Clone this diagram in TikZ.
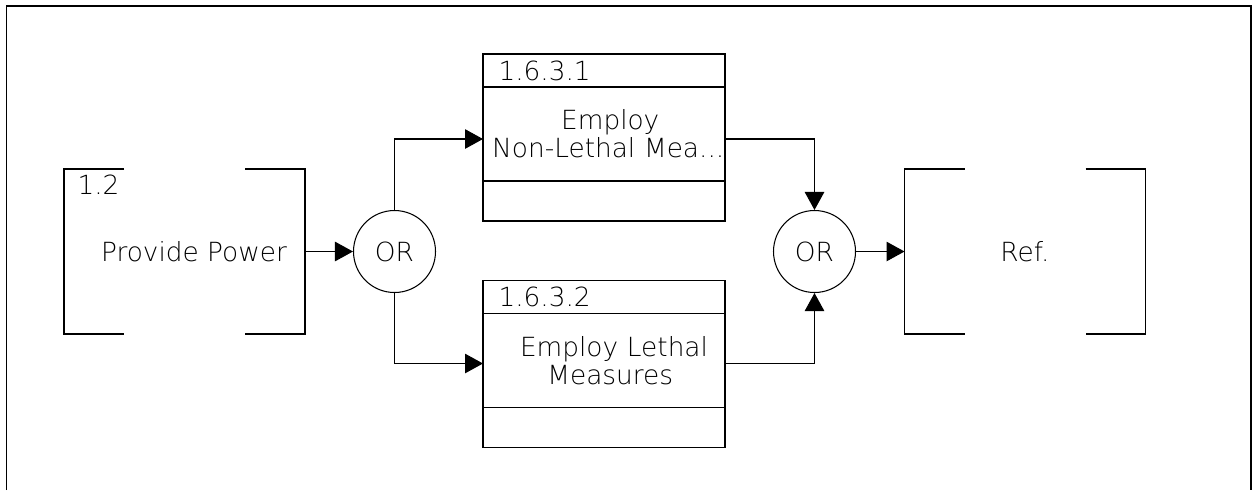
\documentclass[tikz,border=0pt]{standalone}
\usepackage{fontspec}
\setmainfont{DejaVu Sans ExtraLight}
\usetikzlibrary{arrows.meta,positioning}

\begin{document}
\begin{tikzpicture}[
  >={Triangle[length=3.6mm,width=3.9mm]},
  line width=0.6pt,
  every node/.style={font=\fontsize{15}{16}\selectfont},
  ext/.style={minimum width=4.82cm,minimum height=3.3cm,inner sep=0pt,outer sep=0pt,align=center},
  gate/.style={draw,circle,minimum size=1.64cm,inner sep=0pt},
  hdr/.style={draw,minimum width=4.84cm,minimum height=0.66cm,inner sep=0pt,outer sep=0pt},
  body/.style={draw,text width=4.84cm,minimum height=1.88cm,inner sep=0pt,outer sep=0pt,align=center},
  ftr/.style={draw,minimum width=4.84cm,minimum height=0.8cm,inner sep=0pt,outer sep=0pt},
  num/.style={inner sep=0pt,anchor=west}
]
\useasboundingbox (0,0) rectangle (25.04,-9.8);
% page frame, open at the bottom
\draw[line width=1.1pt] (0.13,-9.8) -- (0.13,-0.12) -- (25.02,-0.12) -- (25.02,-9.8);

% external functions
\node[ext] (power) at (3.69,-5.03) {\hspace*{0.38cm}Provide Power};
\node[num] (pnum) at ([xshift=0.26cm,yshift=-0.32cm]power.north west) {1.2};
\node[ext] (ref) at (20.5,-5.03) {Ref.};
\foreach \f in {power,ref}{
  \draw ([xshift=1.2cm]\f.north west) -- (\f.north west) -- (\f.south west) -- ([xshift=1.2cm]\f.south west);
  \draw ([xshift=-1.2cm]\f.north east) -- (\f.north east) -- (\f.south east) -- ([xshift=-1.2cm]\f.south east);
}

% OR gates
\node[gate] (or1) at (7.89,-5.03) {OR};
\node[gate] (or2) at (16.29,-5.03) {OR};

% functions 1.6.3.x
\node[hdr] (f1h) at (12.08,-1.41) {};
\node[body,below=0pt of f1h] (f1) {\hspace*{0.25cm}Employ\\\mbox{\hspace*{0.17cm}Non-Lethal Mea...}};
\node[ftr,below=0pt of f1] (f1f) {};
\node[num] (f1n) at ([xshift=0.3cm]f1h.west) {1.6.3.1};

\node[hdr] (f2h) at (12.08,-5.94) {};
\node[body,below=0pt of f2h] (f2) {\hspace*{0.4cm}Employ Lethal\\\hspace*{0.25cm}Measures};
\node[ftr,below=0pt of f2] (f2f) {};
\node[num] (f2n) at ([xshift=0.3cm]f2h.west) {1.6.3.2};

\draw[->] (power.east) -- (or1);
\draw[->] (or1.north) |- ([yshift=-0.1cm]f1.west);
\draw[->] (or1.south) |- ([yshift=-0.06cm]f2.west);
\draw[->] ([yshift=-0.1cm]f1.east) -| (or2.north);
\draw[->] ([yshift=-0.06cm]f2.east) -| (or2.south);
\draw[->] (or2.east) -- (ref.west);
\end{tikzpicture}
\end{document}
